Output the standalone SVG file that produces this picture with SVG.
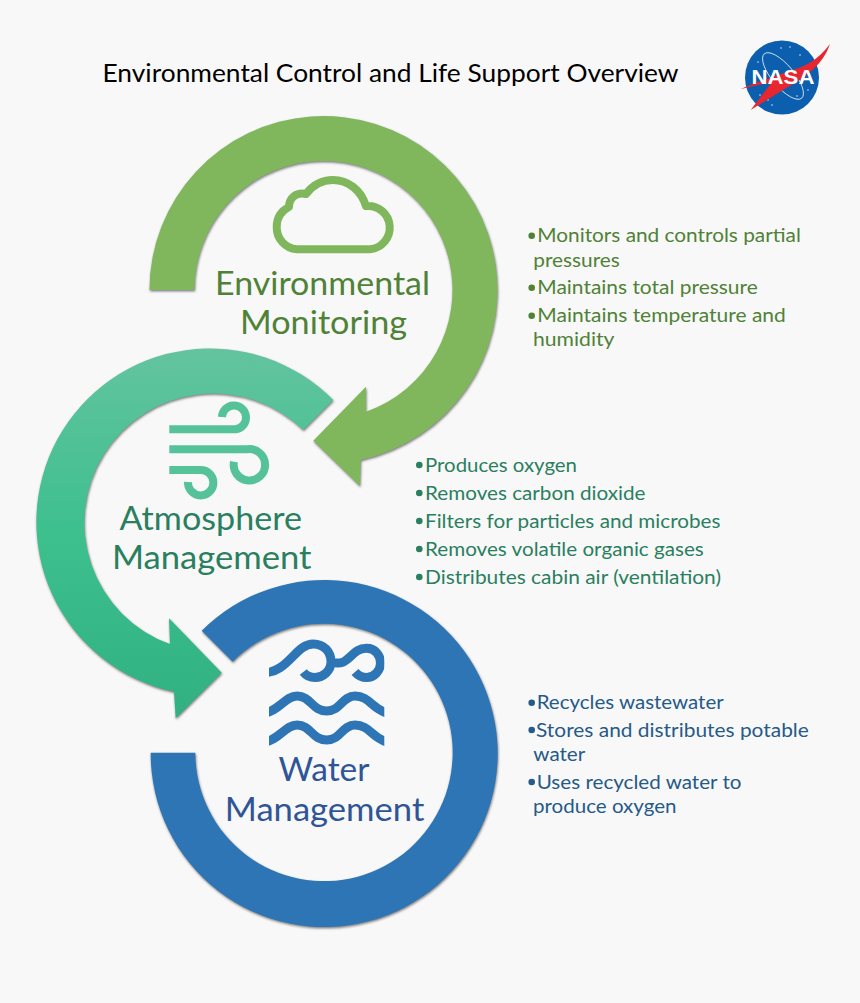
<svg xmlns="http://www.w3.org/2000/svg" width="860" height="1003" viewBox="0 0 860 1003">
<style>
text{font-family:Lato,"Open Sans","Liberation Sans",sans-serif}
.title{font-size:25px;fill:#000}
.h{font-size:33px}
.b{font-size:19.5px}
.g{fill:#4f8236}.t{fill:#2a7f5f}.w{fill:#2f5597}.u{fill:#265a88}
.ic{fill:none;stroke-width:8;stroke-linecap:butt;stroke-linejoin:round}
.wv{stroke-width:9}
.ring{filter:url(#sh)}
</style>
<defs>
<filter id="sh" x="-5%" y="-5%" width="110%" height="110%" color-interpolation-filters="sRGB"><feDropShadow dx="0.6" dy="1.4" stdDeviation="1.2" flood-color="#000" flood-opacity="0.5"/></filter>
<linearGradient id="tg" gradientUnits="userSpaceOnUse" x1="0" y1="348" x2="0" y2="718"><stop offset="0" stop-color="#63c49f"/><stop offset="0.5" stop-color="#3dbf8e"/><stop offset="1" stop-color="#31b182"/></linearGradient>
<clipPath id="wc"><rect x="269" y="630" width="115.3" height="120"/></clipPath>
<clipPath id="lc"><circle cx="782" cy="77.5" r="37"/></clipPath>
</defs>
<rect width="860" height="1003" fill="#f8f8f8"/>
<text class="title" x="102.5" y="82" textLength="576" lengthAdjust="spacingAndGlyphs">Environmental Control and Life Support Overview</text>
<g id="nasa-logo">
<circle cx="782" cy="77.5" r="37" fill="#0b5fae"/>
<g clip-path="url(#lc)" fill="#cfe2f5"><circle cx="781" cy="48" r="0.8"/><circle cx="790" cy="47" r="0.8"/><circle cx="800" cy="55" r="0.8"/><circle cx="760" cy="95" r="0.8"/><circle cx="768" cy="100" r="0.8"/><circle cx="772" cy="105" r="0.8"/><circle cx="797" cy="96" r="0.8"/><circle cx="808" cy="90" r="0.8"/><circle cx="758" cy="62" r="0.8"/></g>
<ellipse cx="783" cy="76" rx="11" ry="29" transform="rotate(-40 783 76)" fill="none" stroke="#cfe2f5" stroke-width="0.9"/>
<path d="M830 44C818 60 806 66 790 71C775 76 755 83 740.7 89L772 82L750.7 110L783 90C800 80 822 68 830 44Z" fill="#e8262f"/>
<text x="751.5" y="84.3" font-size="19.5" font-weight="700" fill="#fff" textLength="63" lengthAdjust="spacingAndGlyphs" style="font-family:'Liberation Sans',sans-serif">NASA</text>
</g>
<g id="connectors">
<path class="ring" fill="#80b75c" d="M149.5 290A174 174 0 1 1 360.7 460L360 486L313.3 440.7L366 386.7L366 411.7A129 129 0 1 0 194.5 290Z"/>
<path class="ring" fill="url(#tg)" d="M333.3 400A173.5 173.5 0 1 0 174 691.7L175.7 718.3L221.7 672.7L169 618.3L170 644A129 129 0 1 1 303.3 430Z"/>
<path class="ring" fill="#2e75b6" d="M201.7 630.7A173.5 173.5 0 1 1 150.7 752.7L195.3 752.7A128.7 128.7 0 1 0 232.7 661.7Z"/>
</g>
<g id="environmental-monitoring">
<path class="ic" stroke="#80b75c" d="M296.7 249.3H370A21.5 21.5 0 0 0 366 206C361 190 348 180 333 180C321 180 312 186 306 194C296 192 289 198 289 207C281 211 276.7 218 276.7 227A22 22 0 0 0 296.7 249.3Z"/>
<text class="h g" x="215" y="294.5" textLength="215" lengthAdjust="spacingAndGlyphs">Environmental</text>
<text class="h g" x="240" y="334.2" textLength="167" lengthAdjust="spacingAndGlyphs">Monitoring</text>
<g class="b g">
<circle cx="531.7" cy="235.7" r="3.3"/><circle cx="531.7" cy="287.7" r="3.3"/><circle cx="531.7" cy="315.7" r="3.3"/>
<text x="537.3" y="242.4" textLength="263.5" lengthAdjust="spacingAndGlyphs">Monitors and controls partial</text>
<text x="533.3" y="266.8" textLength="86.5" lengthAdjust="spacingAndGlyphs">pressures</text>
<text x="537.3" y="294.4" textLength="220.5" lengthAdjust="spacingAndGlyphs">Maintains total pressure</text>
<text x="537.3" y="322.4" textLength="248.5" lengthAdjust="spacingAndGlyphs">Maintains temperature and</text>
<text x="533" y="346.1" textLength="81.5" lengthAdjust="spacingAndGlyphs">humidity</text>
</g>
</g>
<g id="atmosphere-management">
<g class="ic" stroke="#55c29a">
<path d="M169.3 429.3H236A12 12 0 1 0 222 417"/>
<path d="M169.3 449.3H247A15.7 15.7 0 1 1 234 461.7"/>
<path d="M169.3 470H200A12.7 12.7 0 1 1 188 482"/>
</g>
<text class="h t" x="119.5" y="529.5" textLength="182.5" lengthAdjust="spacingAndGlyphs">Atmosphere</text>
<text class="h t" x="112" y="569.2" textLength="199.5" lengthAdjust="spacingAndGlyphs">Management</text>
<g class="b t">
<circle cx="419.3" cy="465" r="3.3"/><circle cx="419.3" cy="493" r="3.3"/><circle cx="419.3" cy="521" r="3.3"/><circle cx="419.3" cy="549" r="3.3"/><circle cx="419.3" cy="577" r="3.3"/>
<text x="425" y="472.4" textLength="152" lengthAdjust="spacingAndGlyphs">Produces oxygen</text>
<text x="425" y="500.1" textLength="220.5" lengthAdjust="spacingAndGlyphs">Removes carbon dioxide</text>
<text x="425" y="527.8" textLength="295.5" lengthAdjust="spacingAndGlyphs">Filters for particles and microbes</text>
<text x="425" y="556.1" textLength="278.8" lengthAdjust="spacingAndGlyphs">Removes volatile organic gases</text>
<text x="425" y="584.4" textLength="296" lengthAdjust="spacingAndGlyphs">Distributes cabin air (ventilation)</text>
</g>
</g>
<g id="water-management">
<g class="ic wv" stroke="#2e75b6" clip-path="url(#wc)">
<path d="M262 673C289 673 295 644 313.3 644C324 644 331 652 331 661.7C331 671 323 677.5 315 677.5C310 677.5 306 675.5 303.3 672"/>
<path d="M331 662C350 668 350 648 366.7 648.3C375 648.3 380.5 655 380.5 663C380.5 671 374 677.5 366.7 677.5C362 677.5 358 675.5 355 672"/>
<path d="M262 714C280 711 285 696 297 696C311 696 312 711 326.7 711C341 711 342 696 355 696C370 696 372 710 390 714"/>
<path d="M262 743C280 740 285 725 297 725C311 725 312 740 326.7 740C341 740 342 725 355 725C370 725 372 739 390 743"/>
</g>
<text class="h w" x="278.5" y="781.2" textLength="91" lengthAdjust="spacingAndGlyphs">Water</text>
<text class="h w" x="224.8" y="820.9" textLength="199.5" lengthAdjust="spacingAndGlyphs">Management</text>
<g class="b u">
<circle cx="531.7" cy="702.7" r="3.3"/><circle cx="531.7" cy="730" r="3.3"/><circle cx="531.7" cy="782" r="3.3"/>
<text x="536.7" y="709.1" textLength="187" lengthAdjust="spacingAndGlyphs">Recycles wastewater</text>
<text x="536" y="737.4" textLength="272.8" lengthAdjust="spacingAndGlyphs">Stores and distributes potable</text>
<text x="533.3" y="761.1" textLength="52" lengthAdjust="spacingAndGlyphs">water</text>
<text x="536.7" y="789.1" textLength="204.8" lengthAdjust="spacingAndGlyphs">Uses recycled water to</text>
<text x="533" y="812.8" textLength="143.5" lengthAdjust="spacingAndGlyphs">produce oxygen</text>
</g>
</g>
</svg>
